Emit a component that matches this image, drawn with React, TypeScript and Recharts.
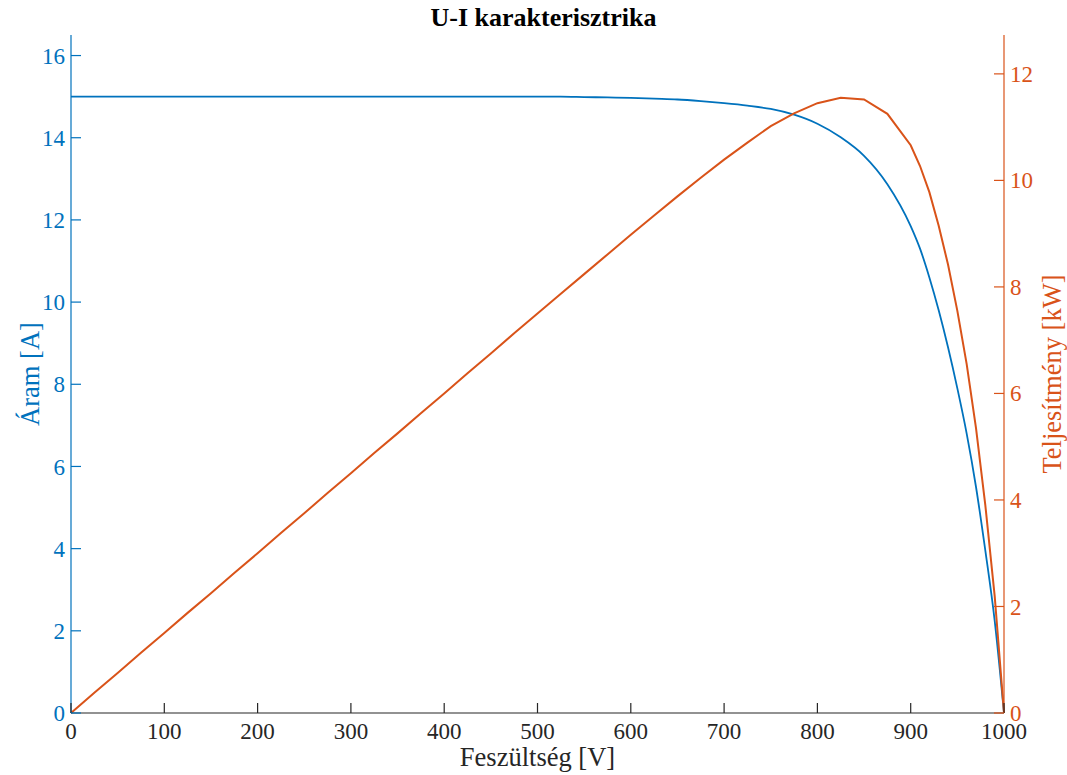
import { LineChart, Line, XAxis, YAxis, Label } from 'recharts'

// Feszültség [V]
const voltage = [
  0, 25, 50, 75, 100, 125, 150, 175, 200, 225, 250, 275, 300, 325, 350, 375, 400, 425, 450, 475, 500,
  525, 550, 575, 600, 625, 650, 675, 700, 725, 750, 775, 800, 825, 850, 875, 900, 910, 920, 930, 940,
  950, 960, 970, 980, 990, 1000,
]

// Áram [A]
const current = [
  15, 15, 15, 15, 15, 15, 15, 15, 15, 15, 15, 15, 15, 15, 15, 15, 15, 15, 15, 15, 15,
  15, 14.99, 14.98, 14.97, 14.95, 14.93, 14.89, 14.84, 14.78, 14.7, 14.56, 14.34, 14.01, 13.56,
  12.87, 11.85, 11.3, 10.6, 9.8, 8.9, 7.9, 6.8, 5.5, 3.95, 2.25, 0,
]

// Teljesítmény [kW]
const power = [
  0, 0.38, 0.75, 1.13, 1.5, 1.88, 2.25, 2.63, 3.0, 3.38, 3.75, 4.13, 4.5, 4.88, 5.25, 5.63, 6.0,
  6.38, 6.75, 7.13, 7.5, 7.87, 8.24, 8.61, 8.98, 9.34, 9.7, 10.05, 10.39, 10.71, 11.02, 11.26, 11.45,
  11.55, 11.52, 11.25, 10.66, 10.27, 9.78, 9.15, 8.42, 7.55, 6.55, 5.35, 3.9, 2.2, 0,
]

const voltageTicks = [0, 100, 200, 300, 400, 500, 600, 700, 800, 900, 1000]
const currentTicks = [0, 2, 4, 6, 8, 10, 12, 14, 16]
const powerTicks = [0, 2, 4, 6, 8, 10, 12]

const data = voltage.map((v, i) => ({ v, i: current[i], p: power[i] }))

const BLUE = '#0072BD'
const ORANGE = '#D95319'
const DARK = '#262626'
const FONT = '"Liberation Serif", "Times New Roman", serif'
const TICK_FONT = 23
const LABEL_FONT = 26.5
const TICK_LEN = 10
const GAP = 6

// ticks point into the plot, like the MATLAB default
const sideTick = (side: 'left' | 'right' | 'bottom', color: string) => (props: any) => {
  const { x, y, payload } = props
  if (side === 'left') {
    const ax = x + GAP
    return (
      <g>
        <line x1={ax} x2={ax + TICK_LEN} y1={y} y2={y} stroke={color} strokeWidth={1.2} />
        <text x={x} y={y} dy="0.35em" textAnchor="end" fill={color} fontSize={TICK_FONT} fontFamily={FONT}>
          {payload.value}
        </text>
      </g>
    )
  }
  if (side === 'right') {
    const ax = x - GAP
    return (
      <g>
        <line x1={ax} x2={ax - TICK_LEN} y1={y} y2={y} stroke={color} strokeWidth={1.2} />
        <text x={x} y={y} dy="0.35em" textAnchor="start" fill={color} fontSize={TICK_FONT} fontFamily={FONT}>
          {payload.value}
        </text>
      </g>
    )
  }
  const ay = y - GAP
  return (
    <g>
      <line x1={x} x2={x} y1={ay} y2={ay - TICK_LEN} stroke={color} strokeWidth={1.2} />
      <text x={x} y={y} dy="0.85em" textAnchor="middle" fill={color} fontSize={TICK_FONT} fontFamily={FONT}>
        {payload.value}
      </text>
    </g>
  )
}

const rotatedLabel = (text: string, color: string, offset: number) => ({ viewBox }: any) => {
  const cx = viewBox.x + offset
  const cy = viewBox.y + viewBox.height / 2
  return (
    <text
      x={cx}
      y={cy}
      transform={`rotate(-90 ${cx} ${cy})`}
      dy="0.35em"
      textAnchor="middle"
      fill={color}
      fontSize={LABEL_FONT}
      fontFamily={FONT}
    >
      {text}
    </text>
  )
}

export default function App() {
  return (
    <div style={{ position: 'absolute', left: 0, top: 0, width: 1067, height: 775, background: '#fff' }}>
      <div
        style={{
          position: 'absolute',
          left: 71,
          width: 945,
          top: 2,
          textAlign: 'center',
          fontFamily: FONT,
          fontWeight: 'bold',
          fontSize: 26,
          lineHeight: '32px',
          color: '#000',
        }}
      >
        U-I karakterisztrika
      </div>
      <LineChart width={1067} height={775} data={data} margin={{ top: 35, right: 0, bottom: 0, left: 0 }}>
        <XAxis
          dataKey="v"
          type="number"
          domain={[0, 1000]}
          ticks={voltageTicks}
          interval={0}
          height={62}
          stroke={DARK}
          strokeWidth={1.2}
          tickLine={false}
          tickSize={0}
          tickMargin={GAP}
          tick={sideTick('bottom', DARK)}
        >
          <Label
            content={({ viewBox }: any) => (
              <text
                x={viewBox.x + viewBox.width / 2}
                y={viewBox.y + 44}
                dy="0.35em"
                textAnchor="middle"
                fill={DARK}
                fontSize={LABEL_FONT}
                fontFamily={FONT}
              >
                Feszültség [V]
              </text>
            )}
          />
        </XAxis>
        <YAxis
          yAxisId="i"
          orientation="left"
          type="number"
          domain={[0, 16.5]}
          ticks={currentTicks}
          interval={0}
          width={71}
          stroke={BLUE}
          strokeWidth={1.2}
          tickLine={false}
          tickSize={0}
          tickMargin={GAP}
          tick={sideTick('left', BLUE)}
        >
          <Label content={rotatedLabel('Áram [A]', BLUE, 30)} />
        </YAxis>
        <YAxis
          yAxisId="p"
          orientation="right"
          type="number"
          domain={[0, 12.73]}
          ticks={powerTicks}
          interval={0}
          width={63}
          stroke={ORANGE}
          strokeWidth={1.2}
          tickLine={false}
          tickSize={0}
          tickMargin={GAP}
          tick={sideTick('right', ORANGE)}
        >
          <Label content={rotatedLabel('Teljesítmény [kW]', ORANGE, 48)} />
        </YAxis>
        <Line
          yAxisId="i"
          dataKey="i"
          type="monotone"
          stroke={BLUE}
          strokeWidth={1.8}
          dot={false}
          activeDot={false}
          isAnimationActive={false}
        />
        <Line
          yAxisId="p"
          dataKey="p"
          type="linear"
          stroke={ORANGE}
          strokeWidth={2}
          dot={false}
          activeDot={false}
          isAnimationActive={false}
        />
      </LineChart>
    </div>
  )
}
